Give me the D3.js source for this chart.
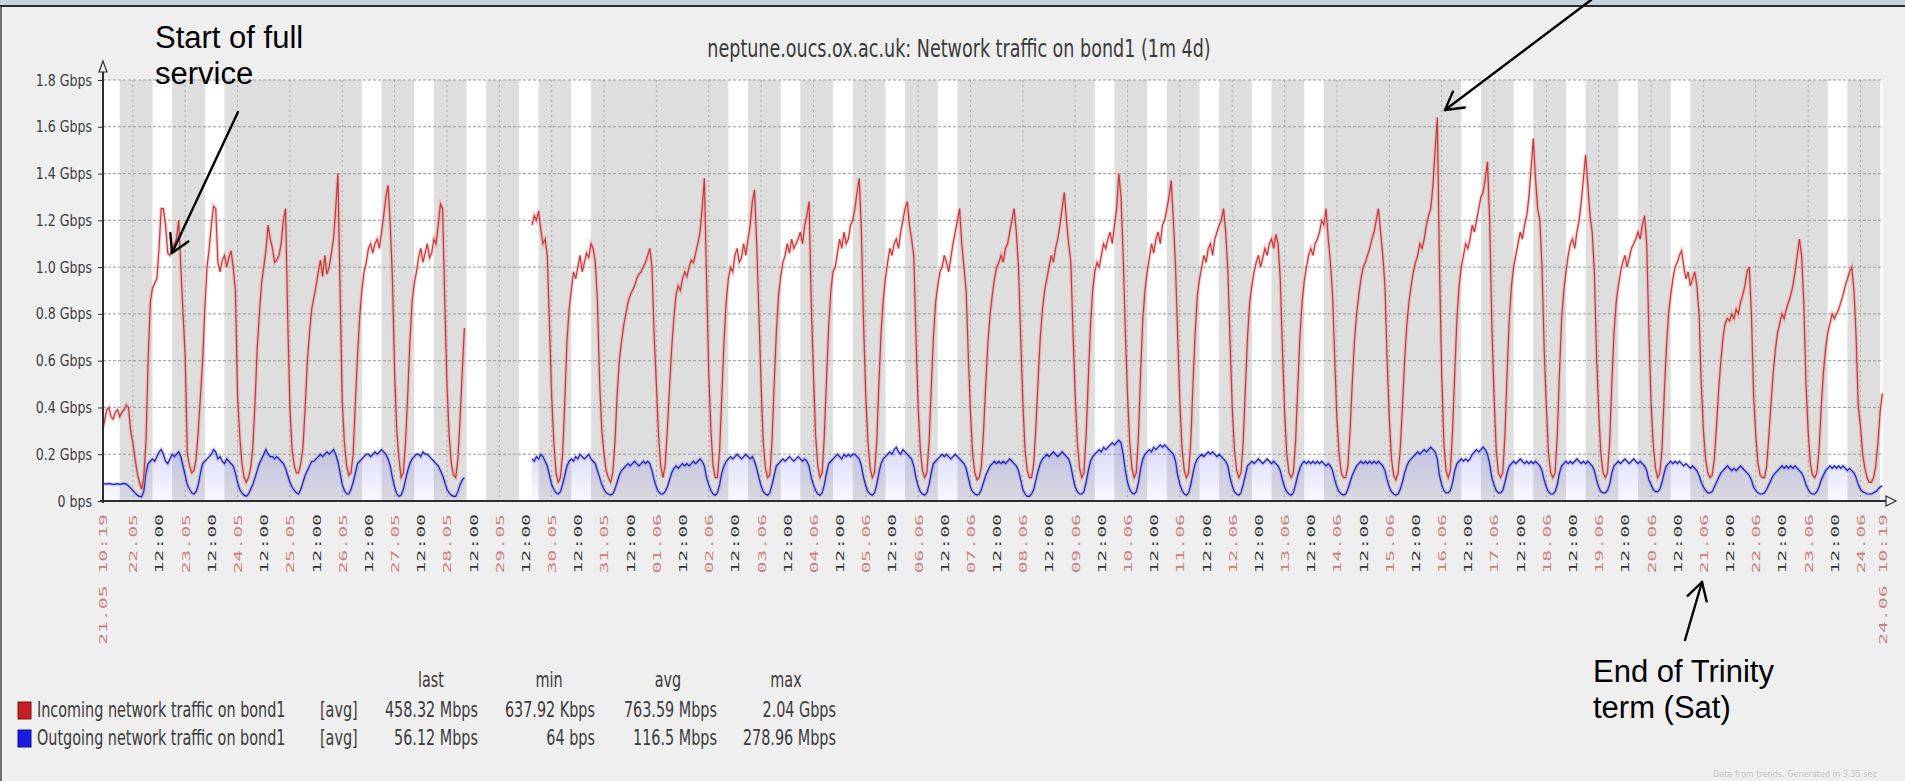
<!DOCTYPE html>
<html>
<head>
<meta charset="utf-8">
<script src="https://cdn.jsdelivr.net/npm/d3@7"></script>
<style>
  html, body { margin: 0; padding: 0; background: #efefef; overflow: hidden; }
  svg { display: block; }
</style>
</head>
<body>
<svg id="chart" width="1905" height="781"></svg>
<script>

/////////////////////////////////
// DATA (Gbps, one value per hour)
//////////////////////////////////

var days = ["21.05","22.05","23.05","24.05","25.05","26.05","27.05","28.05","29.05","30.05","31.05",
  "01.06","02.06","03.06","04.06","05.06","06.06","07.06","08.06","09.06","10.06","11.06","12.06",
  "13.06","14.06","15.06","16.06","17.06","18.06","19.06","20.06","21.06","22.06","23.06","24.06"];

var incoming = [
  [null,null,null,null,null,null,null,null,null,null,0.31,0.34,0.39,0.40,0.36,0.35,0.38,0.39,0.36,0.38,0.39,0.41,0.40,0.30],
  [0.25,0.18,0.12,0.08,0.05,0.10,0.25,0.60,0.85,0.91,0.93,0.95,1.08,1.25,1.25,1.18,1.06,1.05,1.08,1.10,1.12,1.20,1.00,0.80],
  [0.62,0.20,0.15,0.12,0.13,0.18,0.30,0.45,0.60,0.82,1.00,1.08,1.18,1.26,1.25,1.02,0.98,1.03,1.05,1.00,1.04,1.07,1.00,0.90],
  [0.45,0.28,0.16,0.10,0.08,0.10,0.14,0.23,0.42,0.65,0.80,0.93,1.00,1.07,1.18,1.12,1.08,1.02,1.03,1.05,1.10,1.20,1.25,0.78],
  [0.40,0.22,0.15,0.12,0.12,0.16,0.23,0.40,0.60,0.72,0.82,0.87,0.92,0.98,1.03,0.96,1.05,0.97,1.00,1.06,1.12,1.25,1.40,0.90],
  [0.42,0.25,0.15,0.11,0.12,0.20,0.42,0.62,0.79,0.90,0.98,1.02,1.08,1.10,1.06,1.10,1.12,1.08,1.15,1.22,1.30,1.35,1.18,0.95],
  [0.55,0.30,0.18,0.10,0.12,0.25,0.45,0.68,0.85,0.93,0.98,1.04,1.08,1.02,1.06,1.10,1.04,1.06,1.12,1.10,1.18,1.27,1.25,0.85],
  [0.50,0.28,0.16,0.11,0.10,0.18,0.35,0.55,0.74,null,null,null,null,null,null,null,null,null,null,null,null,null,null,null],
  [null,null,null,null,null,null,null,null,null,null,null,null,null,null,null,1.18,1.22,1.20,1.24,1.16,1.10,1.12,1.05,0.75],
  [0.45,0.25,0.12,0.08,0.10,0.20,0.42,0.68,0.82,0.90,0.98,0.95,1.00,1.05,0.98,1.02,1.06,1.04,1.10,1.08,1.02,0.85,0.50,0.30],
  [0.20,0.13,0.10,0.08,0.12,0.25,0.45,0.60,0.68,0.75,0.80,0.85,0.88,0.90,0.92,0.95,0.97,0.98,1.00,1.02,1.05,1.08,1.00,0.70],
  [0.50,0.28,0.15,0.10,0.15,0.30,0.48,0.65,0.78,0.88,0.92,0.90,0.95,0.98,0.96,1.00,1.03,1.02,1.06,1.10,1.15,1.25,1.38,0.95],
  [0.55,0.30,0.15,0.10,0.10,0.22,0.45,0.68,0.85,0.95,1.00,0.98,1.05,1.08,1.02,1.04,1.10,1.05,1.12,1.18,1.28,1.33,1.10,0.80],
  [0.50,0.25,0.14,0.10,0.11,0.25,0.50,0.72,0.88,0.96,1.02,1.05,1.10,1.06,1.12,1.08,1.10,1.12,1.15,1.10,1.18,1.22,1.28,0.85],
  [0.55,0.28,0.15,0.10,0.12,0.28,0.52,0.75,0.90,0.98,1.00,1.06,1.12,1.08,1.15,1.10,1.12,1.18,1.20,1.25,1.32,1.38,1.15,0.75],
  [0.45,0.25,0.14,0.10,0.12,0.25,0.50,0.72,0.86,0.95,1.02,1.08,1.05,1.10,1.12,1.08,1.15,1.20,1.25,1.28,1.18,1.12,1.05,0.70],
  [0.40,0.22,0.13,0.10,0.12,0.25,0.48,0.70,0.85,0.92,0.98,1.00,1.05,1.02,0.98,1.04,1.10,1.15,1.20,1.25,1.10,1.00,0.90,0.62],
  [0.38,0.20,0.12,0.09,0.10,0.15,0.30,0.50,0.68,0.80,0.88,0.95,1.00,1.02,1.05,1.02,1.08,1.10,1.15,1.20,1.25,1.15,1.00,0.70],
  [0.42,0.22,0.13,0.10,0.10,0.16,0.32,0.52,0.70,0.82,0.90,0.95,1.00,1.05,1.02,1.08,1.12,1.18,1.25,1.32,1.20,1.10,1.02,0.72],
  [0.45,0.25,0.14,0.10,0.12,0.28,0.52,0.75,0.90,0.98,1.02,1.00,1.05,1.10,1.08,1.12,1.15,1.10,1.18,1.25,1.40,1.30,1.05,0.72],
  [0.45,0.25,0.14,0.10,0.12,0.28,0.55,0.78,0.90,0.98,1.04,1.10,1.06,1.12,1.15,1.10,1.18,1.20,1.25,1.30,1.37,1.20,1.00,0.70],
  [0.42,0.22,0.13,0.10,0.12,0.26,0.50,0.72,0.88,0.95,1.00,1.05,1.02,1.08,1.10,1.05,1.12,1.15,1.18,1.20,1.25,1.15,0.98,0.68],
  [0.40,0.22,0.13,0.10,0.12,0.25,0.48,0.70,0.85,0.92,0.98,1.02,1.05,1.00,1.04,1.08,1.05,1.10,1.12,1.08,1.14,1.10,0.95,0.65],
  [0.38,0.20,0.12,0.10,0.12,0.25,0.48,0.70,0.85,0.94,1.00,1.05,1.08,1.05,1.10,1.12,1.15,1.20,1.18,1.25,1.12,1.02,0.88,0.60],
  [0.35,0.20,0.12,0.10,0.10,0.15,0.30,0.50,0.68,0.80,0.88,0.95,1.00,1.02,1.05,1.08,1.12,1.15,1.20,1.25,1.15,1.05,0.92,0.60],
  [0.35,0.18,0.11,0.09,0.12,0.22,0.40,0.60,0.75,0.85,0.92,0.98,1.02,1.05,1.10,1.08,1.12,1.18,1.22,1.25,1.35,1.50,1.64,1.00],
  [0.55,0.25,0.13,0.10,0.13,0.30,0.55,0.78,0.92,1.00,1.05,1.10,1.08,1.12,1.18,1.15,1.20,1.25,1.30,1.32,1.38,1.45,1.20,0.75],
  [0.45,0.22,0.12,0.10,0.12,0.28,0.55,0.78,0.92,1.00,1.05,1.10,1.15,1.12,1.18,1.22,1.30,1.42,1.55,1.38,1.25,1.20,1.00,0.65],
  [0.40,0.20,0.12,0.10,0.12,0.28,0.55,0.78,0.90,0.98,1.05,1.10,1.12,1.08,1.15,1.20,1.28,1.38,1.48,1.35,1.22,1.15,0.98,0.62],
  [0.38,0.20,0.12,0.10,0.12,0.25,0.50,0.72,0.85,0.92,0.98,1.02,1.05,1.00,1.04,1.08,1.10,1.12,1.15,1.12,1.18,1.22,1.10,0.72],
  [0.42,0.24,0.14,0.10,0.12,0.22,0.45,0.65,0.80,0.88,0.95,1.00,1.02,1.05,1.07,1.00,0.95,0.98,0.92,0.95,0.98,0.92,0.80,0.50],
  [0.30,0.18,0.12,0.10,0.11,0.18,0.32,0.48,0.60,0.70,0.76,0.78,0.77,0.80,0.78,0.82,0.80,0.85,0.88,0.92,0.98,1.00,0.80,0.45],
  [0.28,0.16,0.11,0.10,0.10,0.15,0.28,0.42,0.55,0.65,0.72,0.76,0.80,0.78,0.82,0.85,0.88,0.92,0.98,1.05,1.12,1.05,0.85,0.50],
  [0.30,0.16,0.11,0.10,0.12,0.22,0.40,0.55,0.65,0.72,0.76,0.80,0.78,0.80,0.82,0.85,0.88,0.92,0.95,0.98,1.00,0.90,0.70,0.40],
  [0.32,0.20,0.14,0.10,0.08,0.08,0.10,0.15,0.25,0.38,0.46,null,null,null,null,null,null,null,null,null,null,null,null,null]
];

var outgoing = [
  [null,null,null,null,null,null,null,null,null,null,0.076,0.074,0.072,0.075,0.073,0.070,0.072,0.074,0.071,0.073,0.075,0.072,0.065,0.055],
  [0.045,0.035,0.025,0.020,0.018,0.040,0.120,0.160,0.170,0.180,0.170,0.190,0.210,0.220,0.200,0.170,0.160,0.180,0.200,0.190,0.200,0.210,0.190,0.150],
  [0.110,0.070,0.050,0.035,0.030,0.040,0.070,0.120,0.160,0.170,0.180,0.190,0.200,0.220,0.210,0.180,0.190,0.170,0.160,0.180,0.170,0.160,0.150,0.120],
  [0.080,0.050,0.035,0.025,0.020,0.030,0.050,0.070,0.100,0.130,0.160,0.180,0.200,0.220,0.200,0.190,0.190,0.180,0.190,0.180,0.170,0.160,0.140,0.110],
  [0.080,0.060,0.045,0.035,0.030,0.050,0.080,0.110,0.130,0.150,0.170,0.170,0.180,0.190,0.200,0.190,0.200,0.210,0.200,0.210,0.220,0.200,0.170,0.120],
  [0.070,0.045,0.030,0.030,0.050,0.080,0.120,0.160,0.170,0.180,0.190,0.200,0.200,0.190,0.200,0.210,0.200,0.210,0.220,0.210,0.200,0.180,0.150,0.100],
  [0.060,0.030,0.020,0.025,0.050,0.090,0.130,0.160,0.180,0.190,0.200,0.200,0.190,0.210,0.200,0.200,0.190,0.180,0.170,0.160,0.150,0.130,0.110,0.080],
  [0.050,0.035,0.025,0.020,0.020,0.040,0.070,0.090,0.100,null,null,null,null,null,null,null,null,null,null,null,null,null,null,null],
  [null,null,null,null,null,null,null,null,null,null,null,null,null,null,null,0.180,0.170,0.190,0.180,0.200,0.190,0.170,0.150,0.110],
  [0.070,0.050,0.035,0.030,0.040,0.070,0.110,0.150,0.170,0.180,0.170,0.190,0.180,0.200,0.190,0.180,0.190,0.200,0.180,0.170,0.160,0.130,0.100,0.070],
  [0.050,0.035,0.030,0.025,0.030,0.050,0.080,0.110,0.130,0.140,0.150,0.160,0.150,0.160,0.170,0.160,0.150,0.160,0.170,0.160,0.170,0.160,0.130,0.090],
  [0.060,0.040,0.030,0.030,0.040,0.060,0.090,0.120,0.140,0.150,0.140,0.150,0.160,0.150,0.160,0.150,0.160,0.170,0.160,0.170,0.180,0.170,0.150,0.100],
  [0.070,0.045,0.030,0.025,0.035,0.070,0.120,0.150,0.170,0.180,0.190,0.180,0.190,0.200,0.190,0.180,0.190,0.200,0.190,0.180,0.190,0.170,0.140,0.100],
  [0.065,0.040,0.030,0.025,0.035,0.070,0.110,0.150,0.160,0.170,0.180,0.170,0.180,0.190,0.180,0.170,0.180,0.190,0.180,0.170,0.180,0.170,0.150,0.100],
  [0.070,0.045,0.030,0.025,0.035,0.070,0.120,0.160,0.170,0.180,0.190,0.200,0.190,0.180,0.200,0.190,0.200,0.190,0.200,0.200,0.190,0.180,0.150,0.100],
  [0.065,0.040,0.030,0.025,0.035,0.070,0.120,0.160,0.180,0.190,0.200,0.210,0.200,0.220,0.230,0.210,0.200,0.220,0.210,0.200,0.190,0.180,0.150,0.100],
  [0.065,0.040,0.030,0.025,0.035,0.070,0.120,0.160,0.170,0.180,0.190,0.200,0.190,0.200,0.190,0.180,0.190,0.200,0.190,0.180,0.170,0.160,0.140,0.100],
  [0.060,0.040,0.030,0.025,0.030,0.050,0.080,0.110,0.130,0.150,0.160,0.170,0.160,0.170,0.160,0.170,0.160,0.170,0.180,0.170,0.160,0.150,0.130,0.090],
  [0.050,0.030,0.020,0.020,0.030,0.050,0.090,0.130,0.160,0.180,0.190,0.200,0.190,0.200,0.210,0.200,0.190,0.200,0.210,0.200,0.190,0.180,0.150,0.100],
  [0.060,0.040,0.030,0.030,0.040,0.080,0.130,0.170,0.190,0.200,0.210,0.220,0.210,0.230,0.220,0.230,0.240,0.250,0.240,0.250,0.260,0.250,0.200,0.130],
  [0.080,0.050,0.035,0.030,0.040,0.080,0.140,0.180,0.200,0.210,0.220,0.210,0.230,0.220,0.230,0.240,0.230,0.240,0.230,0.220,0.210,0.200,0.170,0.110],
  [0.070,0.045,0.030,0.025,0.035,0.070,0.120,0.160,0.180,0.190,0.200,0.190,0.200,0.210,0.200,0.210,0.200,0.190,0.200,0.190,0.180,0.170,0.150,0.100],
  [0.065,0.040,0.030,0.025,0.035,0.070,0.110,0.150,0.160,0.170,0.160,0.170,0.180,0.170,0.160,0.170,0.180,0.170,0.160,0.170,0.160,0.150,0.130,0.090],
  [0.060,0.040,0.030,0.025,0.035,0.070,0.110,0.140,0.160,0.170,0.160,0.170,0.160,0.170,0.160,0.170,0.160,0.170,0.160,0.150,0.160,0.150,0.130,0.090],
  [0.060,0.040,0.030,0.025,0.030,0.050,0.080,0.110,0.130,0.150,0.160,0.170,0.160,0.170,0.160,0.170,0.160,0.170,0.160,0.170,0.160,0.150,0.130,0.090],
  [0.060,0.040,0.030,0.025,0.030,0.050,0.080,0.120,0.150,0.170,0.180,0.190,0.200,0.210,0.200,0.210,0.220,0.210,0.220,0.230,0.220,0.210,0.180,0.110],
  [0.070,0.045,0.035,0.035,0.045,0.080,0.130,0.160,0.170,0.180,0.170,0.180,0.170,0.180,0.200,0.210,0.220,0.210,0.220,0.230,0.220,0.200,0.160,0.100],
  [0.070,0.045,0.035,0.035,0.045,0.080,0.120,0.150,0.160,0.170,0.160,0.170,0.180,0.170,0.160,0.170,0.160,0.170,0.160,0.170,0.160,0.150,0.130,0.090],
  [0.060,0.040,0.030,0.030,0.040,0.070,0.120,0.150,0.160,0.170,0.160,0.170,0.160,0.170,0.180,0.170,0.160,0.170,0.160,0.170,0.160,0.150,0.130,0.090],
  [0.060,0.040,0.035,0.035,0.045,0.070,0.120,0.150,0.160,0.170,0.160,0.170,0.180,0.170,0.160,0.170,0.180,0.170,0.160,0.170,0.160,0.150,0.130,0.090],
  [0.070,0.050,0.040,0.040,0.050,0.080,0.120,0.150,0.160,0.170,0.160,0.170,0.160,0.170,0.160,0.150,0.160,0.150,0.140,0.150,0.140,0.130,0.110,0.080],
  [0.060,0.045,0.035,0.035,0.040,0.060,0.080,0.100,0.120,0.130,0.140,0.150,0.140,0.130,0.140,0.130,0.140,0.150,0.140,0.130,0.120,0.110,0.090,0.060],
  [0.045,0.035,0.030,0.030,0.035,0.050,0.070,0.090,0.110,0.120,0.130,0.140,0.150,0.140,0.150,0.140,0.150,0.140,0.150,0.140,0.130,0.120,0.100,0.070],
  [0.050,0.035,0.030,0.030,0.040,0.060,0.090,0.110,0.130,0.140,0.150,0.140,0.150,0.140,0.150,0.140,0.150,0.140,0.130,0.140,0.130,0.120,0.100,0.070],
  [0.050,0.040,0.035,0.030,0.030,0.030,0.035,0.040,0.050,0.060,0.065,null,null,null,null,null,null,null,null,null,null,null,null,null]
];

var yTicks = [0, 0.2, 0.4, 0.6, 0.8, 1.0, 1.2, 1.4, 1.6, 1.8];
var yTickLabels = ["0 bps","0.2 Gbps","0.4 Gbps","0.6 Gbps","0.8 Gbps","1.0 Gbps","1.2 Gbps","1.4 Gbps","1.6 Gbps","1.8 Gbps"];

var legendNames = ["Incoming network traffic on bond1", "Outgoing network traffic on bond1"];
var legendColors = ["#c41f24", "#1b1be0"];
var statHeads = ["last", "min", "avg", "max"];
var statIn = ["458.32 Mbps", "637.92 Kbps", "763.59 Mbps", "2.04 Gbps"];
var statOut = ["56.12 Mbps", "64 bps", "116.5 Mbps", "278.96 Mbps"];

var chartTitle = "neptune.oucs.ox.ac.uk: Network traffic on bond1 (1m 4d)";
var footerText = "Data from trends. Generated in 3.35 sec";


/////////////////////////////////
// SETUP
//////////////////////////////////

var cond = "'DejaVu Sans Condensed', 'DejaVu Sans', sans-serif";
var parseDay = d3.timeParse("%d.%m.%Y %H:%M");
var tStart = parseDay("21.05.2008 10:19");
var tEnd = parseDay("24.06.2008 10:19");

function dayStart(d) { return parseDay(d + ".2008 00:00"); }

var svg = d3.select("#chart");

var x = d3.scaleTime().domain([tStart, tEnd]).range([103, 1883]);
var y = d3.scaleLinear().domain([0, 1.8]).range([501, 80]);

// turn the hourly rows into points (first and last clamp to the graph period)
function toPoints(rows) {
  var pts = [];
  rows.forEach(function(row, i) {
    var d0 = dayStart(days[i]);
    row.forEach(function(v, h) {
      var t = d3.timeHour.offset(d0, h);
      if (t < tStart) t = tStart;
      if (t > tEnd) t = tEnd;
      pts.push({t: t, v: v});
    });
  });
  return pts;
}

var inPts = toPoints(incoming);
var outPts = toPoints(outgoing);

// window chrome
svg.append("rect").attr("x", 0).attr("y", 0).attr("width", 1905).attr("height", 781).attr("fill", "#efefef");
svg.append("rect").attr("x", 0).attr("y", 0).attr("width", 1905).attr("height", 5).attr("fill", "#c6d4e2");
svg.append("line").attr("x1", 0).attr("x2", 1905).attr("y1", 6).attr("y2", 6).attr("stroke", "#2c2c2c").attr("stroke-width", 2);
svg.append("line").attr("x1", 1).attr("x2", 1).attr("y1", 7).attr("y2", 781).attr("stroke", "#707070").attr("stroke-width", 2);

// soft fill under the outgoing line
var defs = svg.append("defs");
var grad = defs.append("linearGradient").attr("id", "outFill")
  .attr("gradientUnits", "userSpaceOnUse")
  .attr("x1", 0).attr("x2", 0).attr("y1", y(0.26)).attr("y2", y(0));
grad.append("stop").attr("offset", "0%").attr("stop-color", "#6e6ef0").attr("stop-opacity", 0.28);
grad.append("stop").attr("offset", "100%").attr("stop-color", "#6e6ef0").attr("stop-opacity", 0.04);


/////////////////////////////////
// PLOT BACKGROUND: work hours white, rest grey
//////////////////////////////////

svg.append("rect")
  .attr("x", x(tStart)).attr("y", y(1.8))
  .attr("width", x(tEnd) - x(tStart)).attr("height", y(0) - y(1.8))
  .attr("fill", "#dedede");

var workSpans = [];
days.forEach(function(d) {
  var d0 = dayStart(d);
  var wd = d0.getDay();
  if (wd === 0 || wd === 6) return;
  var a = d3.timeHour.offset(d0, 9), b = d3.timeHour.offset(d0, 18);
  if (a < tStart) a = tStart;
  if (b > tEnd) b = tEnd;
  if (b > a) workSpans.push([a, b]);
});

svg.append("g").selectAll("rect")
  .data(workSpans)
  .enter().append("rect")
    .attr("x", function(d) { return x(d[0]); })
    .attr("y", y(1.8))
    .attr("width", function(d) { return x(d[1]) - x(d[0]); })
    .attr("height", y(0) - y(1.8))
    .attr("fill", "#ffffff");

// grid
var midnights = days.map(dayStart).filter(function(t) { return t > tStart && t < tEnd; });

svg.append("g").selectAll("line")
  .data(midnights)
  .enter().append("line")
    .attr("x1", function(d) { return x(d); }).attr("x2", function(d) { return x(d); })
    .attr("y1", y(1.8)).attr("y2", y(0))
    .attr("stroke", "#a9a9a9").attr("stroke-width", 1).attr("stroke-dasharray", "2,3");

svg.append("g").selectAll("line")
  .data(yTicks.slice(1))
  .enter().append("line")
    .attr("x1", x(tStart)).attr("x2", x(tEnd))
    .attr("y1", function(d) { return y(d); }).attr("y2", function(d) { return y(d); })
    .attr("stroke", "#9c9c9c").attr("stroke-width", 1).attr("stroke-dasharray", "3,2");


/////////////////////////////////
// SERIES
//////////////////////////////////

var line = d3.line()
  .defined(function(d) { return d.v !== null; })
  .x(function(d) { return x(d.t); })
  .y(function(d) { return y(d.v); });

var area = d3.area()
  .defined(function(d) { return d.v !== null; })
  .x(function(d) { return x(d.t); })
  .y0(y(0))
  .y1(function(d) { return y(d.v); });

// outgoing, blue with fading lavender fill
svg.append("path").datum(outPts).attr("d", area).attr("fill", "url(#outFill)");
svg.append("path").datum(outPts).attr("d", line)
  .attr("fill", "none").attr("stroke", "rgba(130,130,240,0.4)").attr("stroke-width", 3.5);
svg.append("path").datum(outPts).attr("d", line)
  .attr("fill", "none").attr("stroke", "#2424a8").attr("stroke-width", 1.2);

// incoming, red with a soft pink glow
svg.append("path").datum(inPts).attr("d", line)
  .attr("fill", "none").attr("stroke", "rgba(235,130,130,0.38)").attr("stroke-width", 3.5);
svg.append("path").datum(inPts).attr("d", line)
  .attr("fill", "none").attr("stroke", "#c23a3a").attr("stroke-width", 1.2);


/////////////////////////////////
// AXES
//////////////////////////////////

var xTicks = [tStart];
days.forEach(function(d) {
  var d0 = dayStart(d);
  [d0, d3.timeHour.offset(d0, 12)].forEach(function(t) {
    if (t - tStart > 6 * 3600e3 && t < tEnd) xTicks.push(t);
  });
});
xTicks.push(tEnd);

var fmtDay = d3.timeFormat("%d.%m");
var fmtFull = d3.timeFormat("%d.%m %H:%M");
function isNoon(t) { return t.getHours() === 12 && t.getMinutes() === 0; }

var xAxis = d3.axisBottom(x)
  .tickValues(xTicks)
  .tickSize(0)
  .tickFormat(function(d) {
    if (+d === +tStart || +d === +tEnd) return fmtFull(d);
    return isNoon(d) ? "12:00" : fmtDay(d);
  });

var gx = svg.append("g").attr("transform", "translate(0," + y(0) + ")").call(xAxis);
gx.select(".domain").remove();
gx.selectAll("text")
  .attr("x", 0).attr("y", 0).attr("dy", "0.36em")
  .attr("text-anchor", "end")
  .attr("transform", "translate(0,13) scale(1,1.8) rotate(-90)")
  .attr("font-family", "'DejaVu Sans Mono', monospace")
  .attr("font-size", 11)
  .attr("fill", function(d) { return isNoon(d) ? "#353535" : "#c98080"; });

var yAxis = d3.axisLeft(y)
  .tickValues(yTicks)
  .tickSize(5)
  .tickPadding(6)
  .tickFormat(function(d, i) { return yTickLabels[i]; });

var gy = svg.append("g").attr("transform", "translate(" + x(tStart) + ",0)").call(yAxis);
gy.select(".domain").remove();
gy.selectAll(".tick line").attr("stroke", "#333");
gy.selectAll("text")
  .attr("dy", null).attr("y", 0)
  .attr("transform", "translate(0,5) scale(1,1.15)")
  .attr("font-family", cond)
  .attr("font-size", 14)
  .attr("fill", "#3b3b3b");

// axis lines with open arrow heads
var ax = x(tStart), ay = y(0);
svg.append("line").attr("x1", ax).attr("x2", ax).attr("y1", ay + 2).attr("y2", 66)
  .attr("stroke", "#2e2e2e").attr("stroke-width", 2);
svg.append("path").attr("d", "M" + (ax - 4) + ",72 L" + ax + ",61 L" + (ax + 4) + ",72 Z")
  .attr("fill", "#efefef").attr("stroke", "#2e2e2e").attr("stroke-width", 1.2);
svg.append("line").attr("x1", ax - 3).attr("x2", 1888).attr("y1", ay).attr("y2", ay)
  .attr("stroke", "#2e2e2e").attr("stroke-width", 2);
svg.append("path").attr("d", "M1886," + (ay - 5) + " L1896," + ay + " L1886," + (ay + 5) + " Z")
  .attr("fill", "#efefef").attr("stroke", "#2e2e2e").attr("stroke-width", 1.2);


/////////////////////////////////
// TITLE + LEGEND
//////////////////////////////////

function stretchText(str, px, py, opts) {
  return svg.append("text")
    .attr("transform", "translate(" + px + "," + py + ") scale(1," + (opts.sy || 1) + ")")
    .attr("font-family", opts.family || cond)
    .attr("font-size", opts.size)
    .attr("fill", opts.fill || "#3b3b3b")
    .attr("text-anchor", opts.anchor || "start")
    .text(str);
}

stretchText(chartTitle, 959, 57, {size: 19.5, sy: 1.3, anchor: "middle", fill: "#3a3a3a"});

var rowY = [717, 745];
var statRight = [478, 595, 717, 836];
var headCenter = [431, 549, 668, 786];

statHeads.forEach(function(h, i) {
  stretchText(h, headCenter[i], 687, {size: 16, sy: 1.35, anchor: "middle"});
});

legendNames.forEach(function(name, i) {
  svg.append("rect")
    .attr("x", 18).attr("y", rowY[i] - 15)
    .attr("width", 13).attr("height", 17)
    .attr("fill", legendColors[i])
    .attr("stroke", d3.color(legendColors[i]).darker(1.2)).attr("stroke-width", 1);
  stretchText(name, 37, rowY[i], {size: 16, sy: 1.35});
  stretchText("[avg]", 320, rowY[i], {size: 16, sy: 1.35});
  var stats = i === 0 ? statIn : statOut;
  stats.forEach(function(s, j) {
    stretchText(s, statRight[j], rowY[i], {size: 16, sy: 1.35, anchor: "end"});
  });
});

stretchText(footerText, 1713, 777, {size: 9, fill: "#c4c4c4"});


/////////////////////////////////
// ANNOTATIONS
//////////////////////////////////

function arrow(x1, y1, x2, y2) {
  var g = svg.append("g").attr("stroke", "#000").attr("stroke-width", 2.4).attr("fill", "none")
    .attr("stroke-linecap", "round");
  g.append("line").attr("x1", x1).attr("y1", y1).attr("x2", x2).attr("y2", y2);
  var back = Math.atan2(y1 - y2, x1 - x2);
  [-0.52, 0.52].forEach(function(off) {
    g.append("line")
      .attr("x1", x2).attr("y1", y2)
      .attr("x2", x2 + 20 * Math.cos(back + off))
      .attr("y2", y2 + 20 * Math.sin(back + off));
  });
}

function note(lines, px, py) {
  lines.forEach(function(l, i) {
    svg.append("text")
      .attr("x", px).attr("y", py + i * 36)
      .attr("font-family", "'Liberation Sans', Arial, sans-serif")
      .attr("font-size", 31)
      .attr("fill", "#000")
      .text(l);
  });
}

note(["Start of full", "service"], 155, 48);
arrow(238, 112, 172, 253);

note(["End of Trinity", "term (Sat)"], 1593, 682);
arrow(1685, 640, 1702, 582);

arrow(1591, 0, 1445, 110);

</script>
</body>
</html>
